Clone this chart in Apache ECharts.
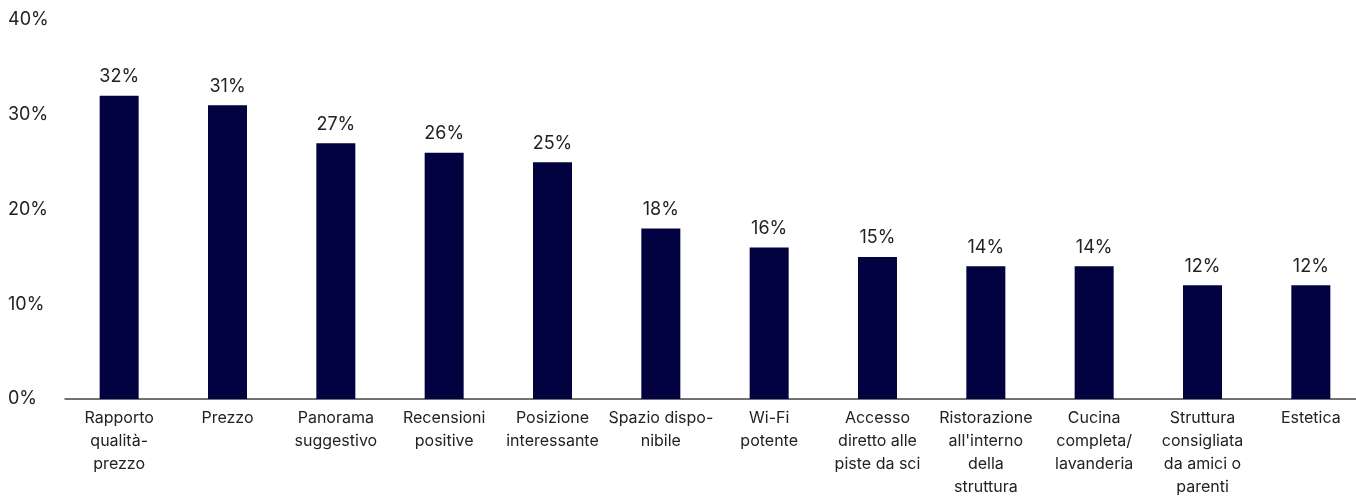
<!DOCTYPE html>
<html>
<head>
<meta charset="utf-8">
<script src="https://cdn.jsdelivr.net/npm/echarts@6/dist/echarts.min.js"></script>
<style>
  html, body { margin: 0; padding: 0; background: #fff; }
  #chart { width: 1356px; height: 497px; }
</style>
</head>
<body>
<div id="chart"></div>
<script>
// Factors in choosing a holiday accommodation (share of respondents, %)
const categories = [
  'Rapporto\nqualità-\nprezzo',
  'Prezzo',
  'Panorama\nsuggestivo',
  'Recensioni\npositive',
  'Posizione\ninteressante',
  'Spazio dispo-\nnibile',
  'Wi-Fi\npotente',
  'Accesso\ndiretto alle\npiste da sci',
  'Ristorazione\nall\'interno\ndella\nstruttura',
  'Cucina\ncompleta/\nlavanderia',
  'Struttura\nconsigliata\nda amici o\nparenti',
  'Estetica'
];
const values = [32, 31, 27, 26, 25, 18, 16, 15, 14, 14, 12, 12];
const yTicks = [0, 10, 20, 30, 40];

const FONT = 'Inter, "Noto Sans", sans-serif';
const chart = echarts.init(document.getElementById('chart'));
chart.setOption({
  animation: false,
  grid: {
    left: 65, width: 1300, top: 20, bottom: 98,
    containLabel: false,
    outerBoundsMode: 'none'
  },
  xAxis: {
    type: 'category',
    data: categories,
    axisLine: { show: true, lineStyle: { color: '#444', width: 1.5 } },
    axisTick: { show: false },
    axisLabel: {
      interval: 0,
      margin: 8,
      color: '#222',
      fontFamily: FONT,
      fontSize: 16,
      lineHeight: 23
    }
  },
  yAxis: {
    type: 'value',
    min: yTicks[0],
    max: yTicks[yTicks.length - 1],
    interval: 10,
    splitLine: { show: false },
    axisLine: { show: false },
    axisTick: { show: false },
    axisLabel: {
      formatter: v => v + '%',
      align: 'left',
      margin: 57,
      color: '#222',
      fontFamily: FONT,
      fontSize: 18
    }
  },
  series: [{
    type: 'bar',
    data: values,
    barWidth: 39,
    itemStyle: { color: '#020240' },
    label: {
      show: true,
      position: 'top',
      distance: 10,
      formatter: p => p.value + '%',
      color: '#222',
      fontFamily: FONT,
      fontSize: 18
    }
  }]
});
</script>
</body>
</html>
